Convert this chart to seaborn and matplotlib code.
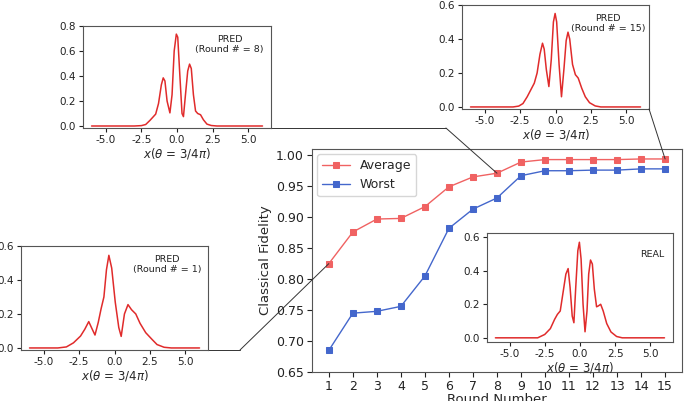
import numpy as np
import pandas as pd
import matplotlib
matplotlib.use("Agg")
import matplotlib.pyplot as plt
from matplotlib.patches import ConnectionPatch
from matplotlib.lines import Line2D
import seaborn as sns

# fidelity per training round
rounds = list(range(1, 16))
fid_average = [0.825, 0.876, 0.897, 0.898, 0.917, 0.949, 0.965, 0.971, 0.989,
               0.993, 0.993, 0.993, 0.993, 0.994, 0.994]
fid_worst = [0.685, 0.745, 0.748, 0.756, 0.805, 0.882, 0.913, 0.931, 0.967,
             0.975, 0.975, 0.976, 0.976, 0.978, 0.978]

# distributions
x_r1 = [-6, -4, -3.4, -2.9, -2.4, -2.1, -1.82, -1.6, -1.38, -1.15, -0.95, -0.75,
        -0.57, -0.4, -0.2, 0.05, 0.3, 0.47, 0.7, 0.95, 1.2, 1.5, 1.8, 2.2, 2.65,
        3.0, 3.5, 4.0, 6]
y_r1 = [0, 0, 0.006, 0.03, 0.07, 0.11, 0.155, 0.115, 0.076, 0.15, 0.23, 0.3,
        0.46, 0.545, 0.47, 0.27, 0.12, 0.068, 0.2, 0.255, 0.225, 0.2, 0.145, 0.09,
        0.05, 0.02, 0.004, 0, 0]

x_r8 = [-6, -3, -2.5, -2.2, -1.9, -1.7, -1.5, -1.3, -1.1, -0.97, -0.85, -0.7,
        -0.5, -0.35, -0.2, -0.05, 0.05, 0.2, 0.35, 0.45, 0.6, 0.75, 0.88, 1.0,
        1.15, 1.3, 1.45, 1.65, 1.85, 2.1, 2.4, 2.8, 6]
y_r8 = [0, 0, 0.003, 0.012, 0.045, 0.07, 0.095, 0.18, 0.33, 0.385, 0.36, 0.2,
        0.105, 0.25, 0.6, 0.735, 0.71, 0.4, 0.1, 0.075, 0.26, 0.44, 0.495, 0.46,
        0.25, 0.12, 0.1, 0.09, 0.05, 0.015, 0.004, 0, 0]

x_r15 = [-6, -3, -2.6, -2.3, -2.0, -1.75, -1.5, -1.3, -1.1, -0.92, -0.8, -0.65,
         -0.47, -0.3, -0.15, -0.03, 0.08, 0.25, 0.42, 0.6, 0.75, 0.88, 1.0, 1.2,
         1.4, 1.6, 1.85, 2.1, 2.4, 2.8, 3.2, 6]
y_r15 = [0, 0, 0.005, 0.02, 0.06, 0.1, 0.14, 0.2, 0.31, 0.375, 0.34, 0.22,
         0.12, 0.28, 0.5, 0.55, 0.5, 0.25, 0.06, 0.23, 0.39, 0.44, 0.4, 0.25,
         0.19, 0.17, 0.11, 0.06, 0.025, 0.006, 0, 0]

x_real = [-6, -3, -2.5, -2.1, -1.8, -1.6, -1.4, -1.2, -1.0, -0.84, -0.7, -0.55,
          -0.43, -0.3, -0.15, -0.04, 0.08, 0.22, 0.36, 0.5, 0.62, 0.75, 0.88,
          1.02, 1.18, 1.3, 1.47, 1.65, 1.9, 2.2, 2.6, 3.0, 6]
y_real = [0, 0, 0.02, 0.055, 0.11, 0.14, 0.16, 0.27, 0.38, 0.413, 0.3, 0.13,
          0.09, 0.3, 0.52, 0.57, 0.47, 0.2, 0.036, 0.16, 0.38, 0.464, 0.44,
          0.29, 0.185, 0.19, 0.2, 0.16, 0.085, 0.035, 0.008, 0, 0]

sns.set_style("ticks")
plt.rcParams['font.family'] = ['DejaVu Sans']

avg_color = '#f06262'
worst_color = '#4467cc'
curve_color = '#e02b2b'
edge = '#555555'

fig = plt.figure(figsize=(6.85, 4.01), dpi=100)

# main fidelity plot
ax = fig.add_axes([0.4555, 0.0723, 0.540, 0.556])
sns.lineplot(x=rounds, y=fid_average, marker='s', markersize=4.5, color=avg_color,
             mec=avg_color, linewidth=1, label='Average', ax=ax)
sns.lineplot(x=rounds, y=fid_worst, marker='s', markersize=4.5, color=worst_color,
             mec=worst_color, linewidth=1, label='Worst', ax=ax)
ax.set_ylim(0.65, 1.01)
ax.set_xticks(rounds)
ax.set_yticks(np.arange(0.65, 1.001, 0.05))
ax.yaxis.set_major_formatter(matplotlib.ticker.FormatStrFormatter('%.2f'))
ax.tick_params(labelsize=9, colors='#222222', length=3.5, pad=2.5)
ax.set_xlabel('Round Number', fontsize=9.5, labelpad=0)
ax.set_ylabel('Classical Fidelity', fontsize=9.5, labelpad=3)
for s in ax.spines.values():
    s.set_color(edge)
ax.legend(loc='upper left', fontsize=9, handlelength=2.2, borderaxespad=0.4)


def inset(rect, xs, ys, top, note, note_pos=(0.78, 0.82)):
    a = fig.add_axes(rect)
    sns.lineplot(x=xs, y=ys, color=curve_color, linewidth=1.1, ax=a)
    a.set_ylim(-0.012 * top / 0.6, top)
    a.set_yticks(np.arange(0, top + 0.001, 0.2))
    a.set_xticks([-5, -2.5, 0, 2.5, 5])
    a.xaxis.set_major_formatter(matplotlib.ticker.FormatStrFormatter('%.1f'))
    a.yaxis.set_major_formatter(matplotlib.ticker.FormatStrFormatter('%.1f'))
    a.tick_params(labelsize=7.5, length=3, pad=2, colors='#222222')
    a.set_xlabel(r'$x(\theta$ = 3/4$\pi)$', fontsize=8.5, labelpad=1)
    for s in a.spines.values():
        s.set_color(edge)
    a.text(note_pos[0], note_pos[1], note, transform=a.transAxes, ha='center',
           va='center', fontsize=6.8, multialignment='center', color='#222222')
    return a


ax8 = inset([0.1212, 0.6808, 0.2745, 0.2544], x_r8, y_r8, 0.8, 'PRED\n(Round # = 8)')
ax15 = inset([0.6745, 0.7282, 0.2730, 0.2594], x_r15, y_r15, 0.6, 'PRED\n(Round # = 15)')
ax1 = inset([0.0307, 0.1272, 0.2730, 0.2594], x_r1, y_r1, 0.6, 'PRED\n(Round # = 1)')
axr = inset([0.7109, 0.1471, 0.2715, 0.2718], x_real, y_real, 0.6, 'REAL', (0.89, 0.8))
axr.set_ylim(-0.025, 0.625)

# connector lines from insets to the points on the fidelity curve
line_kw = dict(color='#333333', linewidth=0.7)
ax8.add_line(Line2D([1, 1.93], [0, 0], transform=ax8.transAxes, clip_on=False, **line_kw))
fig.add_artist(ConnectionPatch((1.93, 0), (8, fid_average[7]), 'axes fraction', 'data',
                               axesA=ax8, axesB=ax, **line_kw))
ax1.add_line(Line2D([1, 1.171], [0, 0], transform=ax1.transAxes, clip_on=False, **line_kw))
fig.add_artist(ConnectionPatch((1.171, 0), (1, fid_average[0]), 'axes fraction', 'data',
                               axesA=ax1, axesB=ax, **line_kw))
fig.add_artist(ConnectionPatch((1, 0), (15, fid_average[14]), 'axes fraction', 'data',
                               axesA=ax15, axesB=ax, **line_kw))

fig.savefig('out.png', dpi=100)
